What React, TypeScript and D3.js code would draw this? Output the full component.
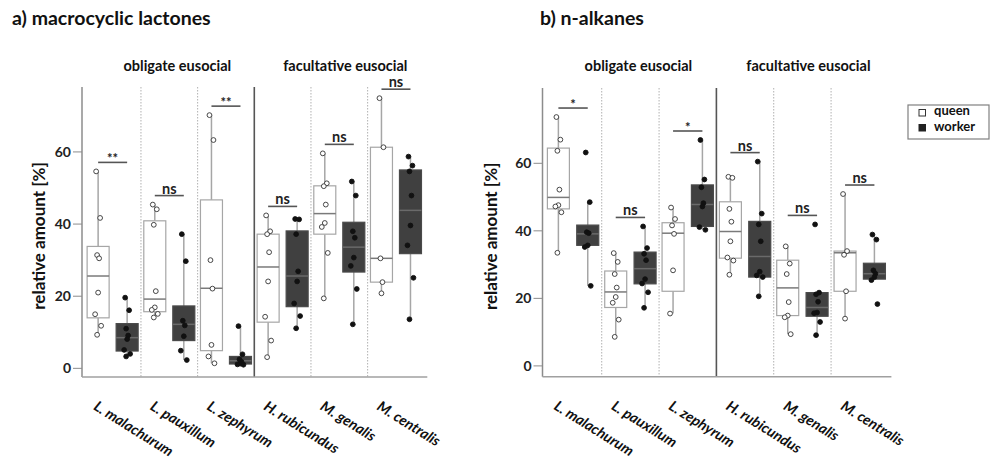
import React from 'react';
import * as d3 from 'd3';

// species on the x axis (same order in both panels)
const species = ['L. malachurum', 'L. pauxillum', 'L. zephyrum', 'H. rubicundus', 'M. genalis', 'M. centralis'];
const groupLabels = ['obligate eusocial', 'facultative eusocial'];
const yTicks = [0, 20, 40, 60];

// box stats: [min whisker, q1, median, q3, max whisker]
const lactQueenBox = [
  [9.3, 14.0, 25.6, 33.8, 54.6],
  [14.1, 15.7, 19.2, 40.9, 45.4],
  [1.4, 4.9, 22.2, 46.7, 70.2],
  [3.1, 12.8, 28.1, 37.2, 42.4],
  [19.4, 37.2, 42.9, 50.6, 59.6],
  [20.8, 23.9, 30.5, 61.3, 74.9],
];
const lactWorkerBox = [
  [3.1, 4.8, 8.5, 12.4, 19.6],
  [2.3, 7.7, 12.2, 17.3, 37.2],
  [1.0, 1.2, 2.1, 3.3, 11.7],
  [11.1, 17.1, 25.6, 38.1, 41.4],
  [12.2, 26.7, 33.6, 40.5, 51.8],
  [13.6, 31.8, 43.8, 55.0, 58.7],
];
const lactQueenPts = [
  [54.6, 41.7, 31.4, 30.5, 21.0, 15.0, 11.8, 9.3],
  [45.4, 44.1, 39.8, 21.4, 16.9, 16.2, 15.1, 14.1],
  [70.2, 63.3, 30.0, 22.1, 6.5, 3.3, 1.4],
  [42.4, 38.0, 37.2, 32.2, 24.1, 14.3, 7.7, 3.1],
  [59.6, 51.3, 50.5, 45.4, 40.3, 39.2, 32.0, 19.4],
  [74.9, 61.3, 30.5, 23.9, 20.8],
];
const lactWorkerPts = [
  [19.6, 16.1, 11.0, 9.1, 8.1, 5.1, 4.0, 3.3],
  [37.2, 29.7, 13.2, 11.9, 8.9, 4.9, 2.3],
  [11.7, 3.9, 2.5, 1.8, 1.3, 1.1, 1.0],
  [41.4, 41.3, 37.2, 26.9, 24.1, 18.0, 14.5, 11.1],
  [51.8, 47.9, 38.0, 36.2, 30.7, 28.4, 22.0, 12.2],
  [58.7, 56.2, 54.6, 47.9, 39.6, 34.1, 25.1, 13.6],
];
const lactSig = ['**', 'ns', '**', 'ns', 'ns', 'ns'];

const alkQueenBox = [
  [33.5, 46.5, 49.9, 64.5, 73.7],
  [8.6, 17.3, 21.9, 28.1, 33.4],
  [15.5, 22.1, 39.3, 42.4, 46.9],
  [27.0, 31.9, 39.8, 48.6, 56.0],
  [9.4, 14.9, 23.1, 31.3, 35.4],
  [14.0, 22.1, 33.5, 34.0, 50.9],
];
const alkWorkerBox = [
  [23.7, 35.7, 39.1, 41.7, 48.5],
  [17.2, 24.3, 28.8, 33.7, 41.3],
  [40.3, 41.3, 47.8, 53.6, 66.9],
  [20.6, 26.3, 32.4, 42.8, 60.5],
  [9.1, 14.7, 17.3, 21.7, 21.7],
  [25.7, 25.7, 27.3, 30.4, 38.9],
];
const alkQueenPts = [
  [73.7, 67.0, 63.7, 52.2, 47.6, 47.2, 45.5, 33.5],
  [33.4, 30.8, 27.2, 23.2, 20.4, 18.7, 13.7, 8.6],
  [46.9, 43.5, 41.6, 39.1, 28.3, 15.5],
  [56.0, 55.7, 46.5, 42.7, 36.9, 32.1, 31.2, 27.0],
  [35.4, 30.3, 27.2, 18.9, 14.9, 14.4, 9.4],
  [50.9, 34.0, 32.9, 22.1, 14.0],
];
const alkWorkerPts = [
  [63.2, 48.5, 39.6, 39.3, 35.7, 35.2, 23.7],
  [41.3, 34.9, 33.2, 31.3, 25.7, 24.4, 21.8, 17.2],
  [66.9, 55.2, 52.9, 48.2, 47.2, 41.1, 40.3],
  [60.5, 45.1, 41.9, 36.9, 27.9, 26.8, 26.3, 20.6],
  [41.9, 21.7, 21.2, 19.0, 15.8, 15.6, 13.0, 9.1],
  [38.9, 37.4, 28.3, 27.3, 26.3, 25.4, 18.3],
];
const alkSig = ['*', 'ns', '*', 'ns', 'ns', 'ns'];

const FONT = 'Lato, "Open Sans", sans-serif';
const jitter = [-2, 2, -1, 1, 0, -3, 3, -1];

type PanelProps = {
  title: string;
  titleX: number;
  labelX: number;
  axisX: number;
  x0: number;
  x1: number;
  yTop: number;
  yBottom: number;
  domain: [number, number];
  queenBox: number[][];
  workerBox: number[][];
  queenPts: number[][];
  workerPts: number[][];
  sig: string[];
};

const Panel = (p: PanelProps) => {
  const x = d3.scaleBand<string>().domain(species).range([p.x0, p.x1]);
  const y = d3.scaleLinear().domain(p.domain).range([p.yBottom, p.yTop]);
  const bw = x.bandwidth();
  const off = bw * 0.256;
  const boxW = 22;
  const axisEnd = p.x1 + 3;

  const drawBox = (s: number[], cx: number, worker: boolean, key: string) => (
    <g key={key}>
      <line x1={cx} x2={cx} y1={y(s[0])} y2={y(s[1])} stroke="#a6a6a6" strokeWidth={1.5} />
      <line x1={cx} x2={cx} y1={y(s[3])} y2={y(s[4])} stroke="#a6a6a6" strokeWidth={1.5} />
      <rect x={cx - boxW / 2} y={y(s[3])} width={boxW} height={y(s[1]) - y(s[3])}
        fill={worker ? '#404040' : '#fff'} stroke={worker ? '#4a4a4a' : '#a6a6a6'} strokeWidth={1.2} />
      <line x1={cx - boxW / 2} x2={cx + boxW / 2} y1={y(s[2])} y2={y(s[2])}
        stroke={worker ? '#6a6a6a' : '#7a7a7a'} strokeWidth={1.5} />
    </g>
  );

  const drawPts = (pts: number[], cx: number, worker: boolean, key: string) => (
    <g key={key}>
      {pts.map((v, i) => (
        <circle key={i} cx={cx + jitter[i % jitter.length]} cy={y(v)} r={2.4}
          fill={worker ? '#111' : '#fff'} stroke={worker ? '#111' : '#333'} strokeWidth={0.9} />
      ))}
    </g>
  );

  const mid = (a: number, b: number) => (x(species[a])! + x(species[b])! + bw) / 2;

  return (
    <g>
      <text x={p.titleX} y={25} fontFamily={FONT} fontWeight="bold" fontSize={19.5} fill="#111">{p.title}</text>
      {/* group headings */}
      <text x={mid(0, 2) + 8} y={71} textAnchor="middle" fontFamily={FONT} fontWeight="bold" fontSize={14.5} fill="#111">{groupLabels[0]}</text>
      <text x={mid(3, 5) + 6} y={71} textAnchor="middle" fontFamily={FONT} fontWeight="bold" fontSize={14.5} fill="#111">{groupLabels[1]}</text>

      {/* dividers */}
      {species.slice(1).map((s, i) => (
        <line key={s} x1={x(s)} x2={x(s)} y1={p.yTop} y2={p.yBottom}
          stroke={i === 2 ? '#555' : '#b0b0b0'} strokeWidth={i === 2 ? 1.6 : 1}
          strokeDasharray={i === 2 ? undefined : '1.5,1.5'} />
      ))}

      {/* axes */}
      <line x1={p.axisX} x2={p.axisX} y1={p.yTop} y2={p.yBottom} stroke="#8c8c8c" strokeWidth={1.5} />
      <line x1={p.axisX} x2={axisEnd} y1={p.yBottom} y2={p.yBottom} stroke="#a0a0a0" strokeWidth={1.5} />
      {yTicks.map(t => (
        <g key={t}>
          <line x1={p.axisX - 9} x2={p.axisX} y1={y(t)} y2={y(t)} stroke="#8c8c8c" strokeWidth={1} />
          <text x={p.axisX - 11} y={y(t)} dy="0.35em" textAnchor="end" fontFamily={FONT}
            fontWeight="bold" fontSize={14} fill="#222">{t}</text>
        </g>
      ))}
      <text transform={`translate(${p.labelX},${(p.yTop + p.yBottom) / 2 + 4}) rotate(-90)`}
        textAnchor="middle" fontFamily={FONT} fontWeight="bold" fontSize={17} fill="#111">relative amount [%]</text>

      {/* x labels */}
      {species.map(s => (
        <text key={s} transform={`translate(${x(s)! + bw / 2 - 20},${p.yBottom + 32}) rotate(32)`}
          fontFamily={FONT} fontWeight="bold" fontStyle="italic" fontSize={14.5} fill="#111">{s}</text>
      ))}

      {/* boxes */}
      {species.map((s, i) => {
        const c = x(s)! + bw / 2;
        return (
          <g key={s}>
            {drawBox(p.queenBox[i], c - off, false, 'qb')}
            {drawBox(p.workerBox[i], c + off, true, 'wb')}
            {drawPts(p.queenPts[i], c - off, false, 'qp')}
            {drawPts(p.workerPts[i], c + off, true, 'wp')}
          </g>
        );
      })}

      {/* significance */}
      {species.map((s, i) => {
        const c = x(s)! + bw / 2;
        const top = d3.max([...p.queenPts[i], ...p.workerPts[i], p.queenBox[i][4], p.workerBox[i][4]])!;
        const ly = y(top) - 9;
        const ns = p.sig[i] === 'ns';
        return (
          <g key={s}>
            <line x1={c - off} x2={c + off} y1={ly} y2={ly} stroke="#555" strokeWidth={1.6} />
            <text x={c} y={ns ? ly - 2 : ly + 1} textAnchor="middle" fontFamily={FONT}
              fontWeight="bold" fontSize={ns ? 14.5 : 13} fill="#222">{p.sig[i]}</text>
          </g>
        );
      })}
    </g>
  );
};

export default function App() {
  return (
    <svg width={991} height={461} style={{ display: 'block', position: 'absolute', left: 0, top: 0, background: '#fff' }}>
      <Panel title="a) macrocyclic lactones" titleX={12} labelX={45} axisX={82} x0={84.3} x1={424.3} yTop={87} yBottom={377}
        domain={[-2.4, 78]} queenBox={lactQueenBox} workerBox={lactWorkerBox}
        queenPts={lactQueenPts} workerPts={lactWorkerPts} sig={lactSig} />
      <Panel title="b) n-alkanes" titleX={540} labelX={497} axisX={542.5} x0={544.4} x1={888.4} yTop={88} yBottom={376.7}
        domain={[-3.2, 82.3]} queenBox={alkQueenBox} workerBox={alkWorkerBox}
        queenPts={alkQueenPts} workerPts={alkWorkerPts} sig={alkSig} />
      {/* legend */}
      <g fontFamily={FONT} fontWeight="bold" fontSize={13} fill="#111">
        <rect x={908} y={105} width={81} height={34} fill="#fff" stroke="#808080" strokeWidth={1.2} />
        <rect x={919} y={109.5} width={6.5} height={6.5} fill="#fff" stroke="#333" strokeWidth={1} />
        <rect x={919} y={124.5} width={6.5} height={6.5} fill="#222" stroke="#222" strokeWidth={1} />
        <text x={934} y={115}>queen</text>
        <text x={934} y={130.5}>worker</text>
      </g>
    </svg>
  );
}
